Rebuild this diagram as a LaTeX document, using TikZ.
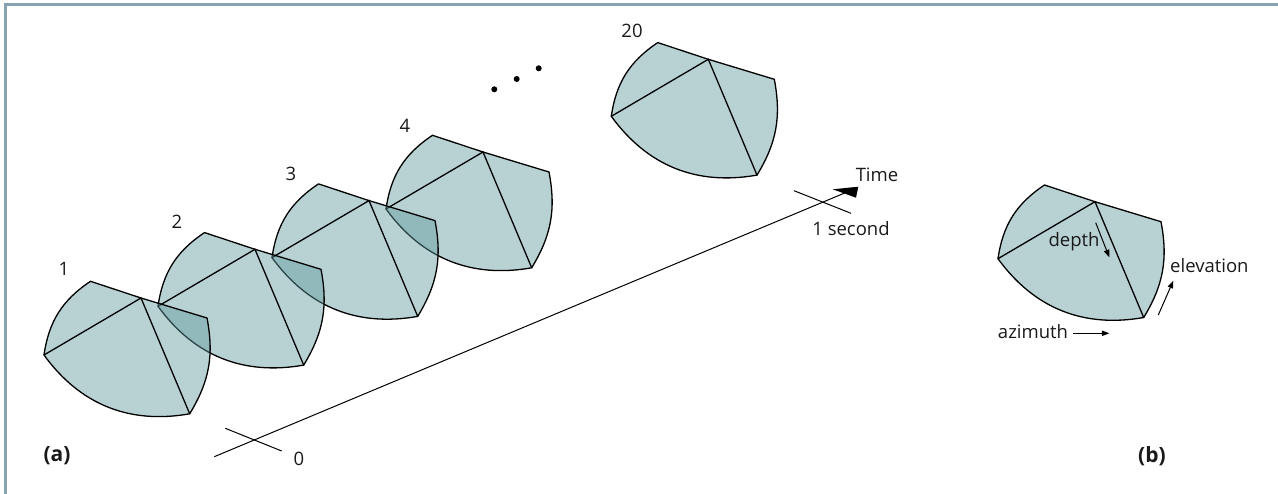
\documentclass[tikz,border=0pt]{standalone}
\usepackage{fontspec}
\setmainfont{Open Sans}
\usetikzlibrary{arrows.meta}
\definecolor{fanc}{RGB}{97,155,159}
\definecolor{framec}{RGB}{134,163,179}
\tikzset{
  lbl/.style={font=\fontsize{18.5}{21}\selectfont, text=black!90, inner sep=0pt},
  panel/.style={font=\bfseries\fontsize{21}{24}\selectfont, text=black!90, inner sep=0pt},
  thinline/.style={line width=1pt},
  smallarrow/.style={line width=1pt, -{Triangle[length=7.5pt,width=5.5pt]}},
  fan/.pic={
    % one sensing volume: apex at the pic origin
    \filldraw[fill=fanc, fill opacity=0.45, draw=black, line width=1.3pt, line join=round]
      (-97,57) to[bend left=24] (-50.5,-16.7) -- (0,0) -- (66,20)
      to[bend left=21] (48.7,115.8) to[bend left=32] (-97,57) -- cycle;
    \draw[line width=1.3pt, line cap=round] (-97,57) -- (0,0) -- (48.7,115.8);
  }
}
\begin{document}
\begin{tikzpicture}[x=1pt, y=-1pt]
\useasboundingbox (0,0) rectangle (1278,494);
% frame rules on top and left
\draw[framec, line width=3pt] (5,494) -- (5,4.7) -- (1278,4.7);

% sequence of volumes, drawn back to front
\pic at (708.3,59.3) {fan};
\pic at (483,152) {fan};
\pic at (369,200.6) {fan};
\pic at (255,249.3) {fan};
\pic at (141,298) {fan};

% frame numbers
\node[lbl] (n1) at (64,269) {1};
\node[lbl] (n2) at (177,222) {2};
\node[lbl] (n3) at (291,174) {3};
\node[lbl] (n4) at (405,126) {4};
\node[lbl] (n20) at (632,31) {20};

% ellipsis
\fill (494.3,89.3) circle[radius=3pt];
\fill (516.7,79) circle[radius=3pt];
\fill (538.7,68.3) circle[radius=3pt];

% time axis
\coordinate (t0) at (214.3,456.7);
\coordinate (tend) at (849,191.2);
\coordinate (ha) at (832.7,189.3);
\coordinate (hb) at (858.3,186.7);
\coordinate (hc) at (856,197.7);
\draw[thinline] (t0) -- (tend);
\fill (ha) -- (hb) -- (hc) -- cycle;
\coordinate (z1) at (225.3,428.3);
\coordinate (z2) at (281.7,451);
\draw[thinline] (z1) -- (z2);
\coordinate (s1) at (794,190.7);
\coordinate (s2) at (851,213.3);
\draw[thinline] (s1) -- (s2);
\node[lbl] (zero) at (299,459) {0};
\node[lbl] (onesec) at (851,229) {1 second};
\node[lbl] (time) at (877,175) {Time};

% single volume with its axes
\pic at (1095,201.7) {fan};
\coordinate (d1) at (1095.7,222.7);
\coordinate (d2) at (1109.3,257.3);
\draw[smallarrow] (d1) -- (d2);
\node[lbl] (depth) at (1074,242) {depth};
\coordinate (a1) at (1073.3,333.3);
\coordinate (a2) at (1109.3,333.3);
\draw[smallarrow] (a1) -- (a2);
\node[lbl] (azimuth) at (1033,332) {azimuth};
\coordinate (e1) at (1158.3,315);
\coordinate (e2) at (1173.3,280.7);
\draw[smallarrow] (e1) -- (e2);
\node[lbl, anchor=west] (elevation) at (1170,266) {elevation};

% panel letters
\node[panel] (pa) at (57,456) {(a)};
\node[panel] (pb) at (1152,456) {(b)};
\end{tikzpicture}
\end{document}
